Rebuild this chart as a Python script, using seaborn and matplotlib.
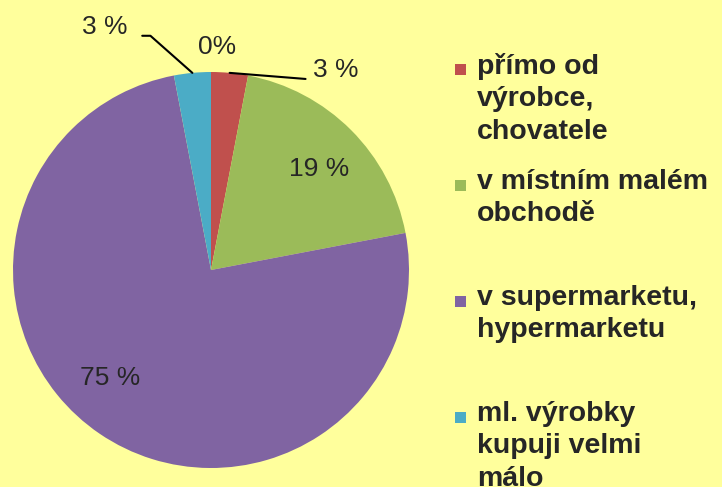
import numpy as np
import matplotlib
matplotlib.use("Agg")
import matplotlib.pyplot as plt
from matplotlib.patches import Rectangle
import seaborn as sns

sns.set_theme(style="white")
plt.rcParams["font.family"] = ["Liberation Sans", "DejaVu Sans"]

# Where people buy the products (share of respondents, %)
categories = [
    "přímo od\nvýrobce,\nchovatele",
    "v místním malém\nobchodě",
    "v supermarketu,\nhypermarketu",
    "ml. výrobky\nkupuji velmi\nmálo",
    "",
]
shares = [3, 19, 75, 3, 0]
pct_labels = ["3 %", "19 %", "75 %", "3 %", "0%"]
colors = ["#C0504D", "#9BBB59", "#8064A2", "#4BACC6", "#F79646"]
bg = "#FFFF9C"

fig = plt.figure(figsize=(7.22, 4.87), dpi=100, facecolor=bg)
ax = fig.add_axes([13 / 722, 1 - 468 / 487, 396 / 722, 396 / 487])
ax.set_facecolor(bg)

wedges, _ = ax.pie(shares, colors=colors, startangle=90, counterclock=False,
                   radius=1.0, wedgeprops=dict(linewidth=0))
ax.set_xlim(-1, 1)
ax.set_ylim(-1, 1)
ax.set_aspect("equal")
ax.axis("off")

# mid angle of each wedge, used to anchor the leader lines on the rim
cum = np.cumsum([0] + shares[:-1])
mid = np.deg2rad(90 - (cum + np.array(shares) / 2) * 3.6)
rim = [(np.cos(a), np.sin(a)) for a in mid]

fs = 19
# inside labels
ax.text(0.545, 0.51, pct_labels[1], ha="center", va="center", fontsize=fs)
ax.text(-0.51, -0.545, pct_labels[2], ha="center", va="center", fontsize=fs)
# zero share label at the top
ax.text(rim[4][0] + 0.03, 1.125, pct_labels[4], ha="center", va="center", fontsize=fs)

# outside labels with leader lines
ax.annotate(pct_labels[0], xy=rim[0], xytext=(0.515, 0.975),
            ha="left", va="baseline", fontsize=fs,
            arrowprops=dict(arrowstyle="-", color="black", lw=1.5,
                            shrinkA=3, shrinkB=0, relpos=(0, 0.1)))
ax.annotate(pct_labels[3], xy=rim[3], xytext=(-0.42, 1.19),
            ha="right", va="baseline", fontsize=fs,
            arrowprops=dict(arrowstyle="-", color="black", lw=1.5,
                            shrinkA=8, shrinkB=0, relpos=(1, 0.15),
                            connectionstyle="angle,angleA=0,angleB=-41.5,rad=0"))

# legend: colour square followed by a multi-line label
legend_tops = [64, 180, 296, 412]
for color, label, top in zip(colors[:4], categories[:4], legend_tops):
    fig.add_artist(Rectangle((455 / 722, 1 - (top + 11) / 487), 11 / 722, 11 / 487,
                             transform=fig.transFigure, facecolor=color,
                             edgecolor="none"))
    fig.text(477 / 722, 1 - (top - 11) / 487, label, ha="left", va="top",
             fontsize=20.5, fontweight="bold", linespacing=1.32)

fig.savefig("out.png", dpi=100, facecolor=bg)
